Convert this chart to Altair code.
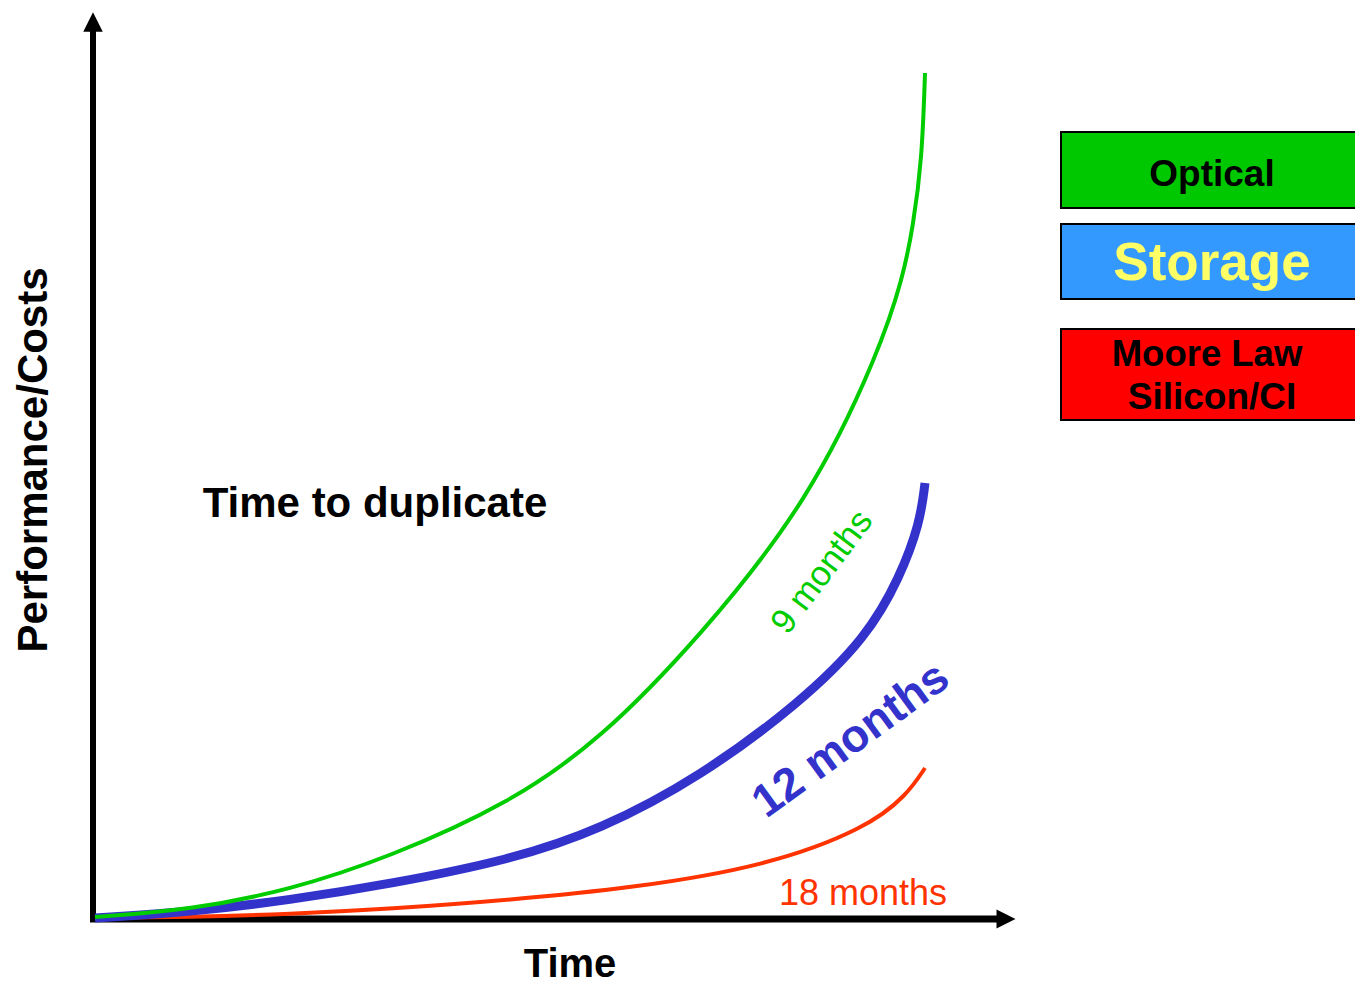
import altair as alt
import pandas as pd

FONT = "Liberation Sans"

# Curves: time (arbitrary units) vs performance/costs (arbitrary units)
green_t = [2, 97, 197, 297, 417, 507, 607, 717, 787, 810, 820, 829, 832]
green_v = [1, 8, 28, 61, 115, 178, 281, 418, 568, 641, 691, 758, 845]

blue_t = [2, 97, 197, 297, 417, 507, 607, 707, 774, 807, 827, 832]
blue_v = [0, 6, 18, 34, 58, 88, 141, 215, 281, 341, 395, 435]

red_t = [2, 97, 197, 297, 417, 540, 674, 774, 814, 832]
red_v = [0, 1, 4, 9, 18, 30, 52, 90, 123, 150]

# Legend boxes
box_labels = ["Optical", "Storage", "Moore"]
box_x1 = [968, 968, 968]
box_x2 = [1272, 1272, 1272]
box_y1 = [786, 694, 589]
box_y2 = [710, 619, 498]
box_fill = ["#00C800", "#3399FF", "#FF0000"]

XD = [-85, 1262]
YD = [-69, 910]
xs = alt.Scale(domain=XD, nice=False, zero=False)
ys = alt.Scale(domain=YD, nice=False, zero=False)


def X(f="t"):
    return alt.X(f"{f}:Q", scale=xs, axis=None)


def Y(f="v"):
    return alt.Y(f"{f}:Q", scale=ys, axis=None)


def curve(ts, vs, color, width):
    df = pd.DataFrame({"t": ts, "v": vs})
    return alt.Chart(df).mark_line(
        color=color, strokeWidth=width, interpolate="basis", strokeCap="butt"
    ).encode(x=X(), y=Y())


# axes
yaxis = alt.Chart(pd.DataFrame({"t": [0], "v": [-3], "v2": [890]})).mark_rule(
    color="black", strokeWidth=6
).encode(x=X(), y=Y(), y2="v2:Q")
xaxis = alt.Chart(pd.DataFrame({"t": [-3], "t2": [910], "v": [-1]})).mark_rule(
    color="black", strokeWidth=7
).encode(x=X(), x2="t2:Q", y=Y())
up_arrow = alt.Chart(pd.DataFrame({"t": [0], "v": [896]})).mark_point(
    shape="M0,-1L1,1L-1,1Z", filled=True, color="black", opacity=1, size=380
).encode(x=X(), y=Y())
right_arrow = alt.Chart(pd.DataFrame({"t": [913], "v": [-1]})).mark_point(
    shape="M1,0L-1,-1L-1,1Z", filled=True, color="black", opacity=1, size=360
).encode(x=X(), y=Y())

red = curve(red_t, red_v, "#FF3300", 4)
blue = curve(blue_t, blue_v, "#3333CC", 9)
green = curve(green_t, green_v, "#00CC00", 4)

boxes = alt.Chart(pd.DataFrame({
    "label": box_labels, "t": box_x1, "t2": box_x2, "v": box_y1, "v2": box_y2, "fill": box_fill
})).mark_rect(stroke="black", strokeWidth=2).encode(
    x=X(), x2="t2:Q", y=Y(), y2="v2:Q", fill=alt.Fill("fill:N", scale=None)
)


def label(text, t, v, color, size, bold=True, angle=0, baseline="alphabetic"):
    df = pd.DataFrame({"t": [t], "v": [v], "text": [text]})
    kw = dict(color=color, fontSize=size, font=FONT, align="center", baseline=baseline,
              fontWeight="bold" if bold else "normal")
    if angle:
        kw["angle"] = angle
    return alt.Chart(df).mark_text(**kw).encode(x=X(), y=Y(), text="text:N")


texts = [
    label("Optical", 1119, 732, "black", 37),
    label("Storage", 1119, 638, "#FFFF66", 53),
    label("Moore Law", 1114, 552, "black", 36.5),
    label("Silicon/CI", 1119, 509, "black", 37),
    label("Time to duplicate", 282, 401, "black", 42),
    label("Time", 477, -59, "black", 40),
    label("Performance/Costs", -46, 458, "black", 42, angle=270),
    label("18 months", 770, 13, "#FF3300", 36, bold=False),
    label("9 months", 729, 346, "#00CC00", 35, bold=False, angle=307, baseline="middle"),
    label("12 months", 758, 178, "#3333CC", 46, bold=True, angle=324, baseline="middle"),
]

chart = alt.layer(
    yaxis, xaxis, up_arrow, right_arrow, red, blue, green, boxes, *texts
).properties(
    width=1347, height=979, padding=0, autosize=alt.AutoSizeParams(type="none")
).configure_view(stroke=None)

chart.save("out.html", embed_options={"renderer": "svg", "actions": False})
